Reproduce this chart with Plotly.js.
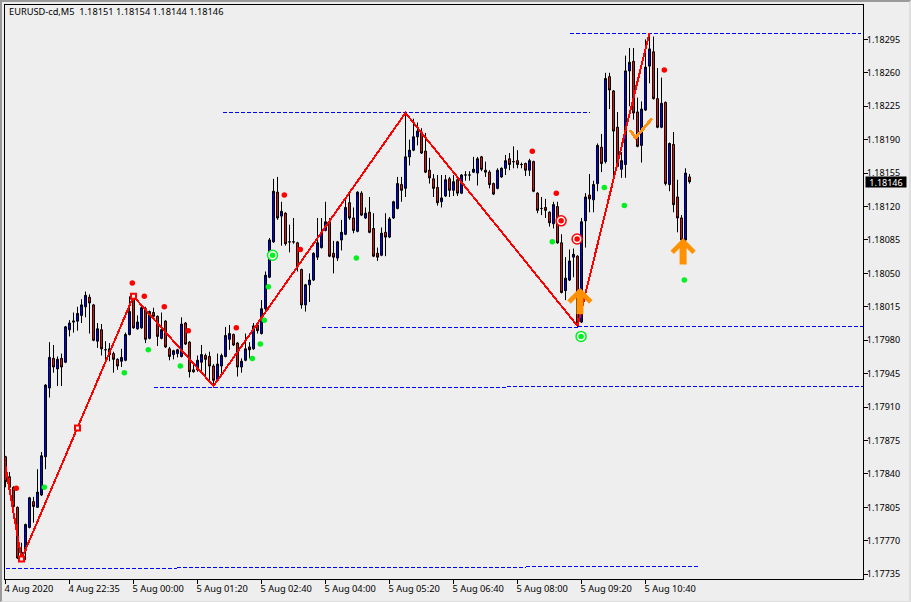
<!DOCTYPE html>
<html><head><meta charset="utf-8">
<script src="https://cdn.plot.ly/plotly-3.0.1.min.js"></script>
<style>
html,body{margin:0;padding:0;background:#eeeeee;overflow:hidden}
#frame{position:absolute;left:0;top:0;width:911px;height:602px}
#chart{position:absolute;left:0;top:0;width:911px;height:602px}
#edge{position:absolute;left:0;top:0;width:907px;height:599px;border-left:2px solid #9a9a9a;border-top:2px solid #9a9a9a;border-right:2px solid #dedede;border-bottom:1px solid #dedede;pointer-events:none}
.scatterlayer .js-line{shape-rendering:crispEdges}
</style></head><body>
<div id="frame"><div id="chart"></div><div id="edge"></div></div>
<script>
const opens=[
1.17858,1.17837,1.17826,1.17805,1.17751,1.17760,1.17784,1.17811,1.17805,1.17818,
1.17858,1.17930,1.17961,1.17950,1.17961,1.17957,1.17991,1.17999,1.18000,1.18006,
1.18015,1.18025,1.18017,1.17979,1.17991,1.17970,1.17965,1.17966,1.17960,1.17958,
1.17959,1.17986,1.18025,1.17992,1.17993,1.18013,1.17982,1.18009,1.18005,1.17982,
1.18000,1.17971,1.17965,1.17966,1.17963,1.17998,1.17978,1.17949,1.17949,1.17957,
1.17964,1.17963,1.17953,1.17939,1.17953,1.17963,1.17981,1.17986,1.17977,1.17952,
1.17959,1.17973,1.17971,1.17996,1.17987,1.18013,1.18046,1.18083,1.18135,1.18110,
1.18113,1.18083,1.18083,1.18082,1.18054,1.18017,1.18038,1.18043,1.18067,1.18077,
1.18095,1.18104,1.18071,1.18066,1.18085,1.18091,1.18124,1.18108,1.18094,1.18134,
1.18108,1.18114,1.18097,1.18071,1.18069,1.18093,1.18088,1.18108,1.18118,1.18143,
1.18139,1.18172,1.18179,1.18193,1.18198,1.18178,1.18158,1.18149,1.18140,1.18125,
1.18131,1.18149,1.18137,1.18148,1.18134,1.18153,1.18153,1.18156,1.18155,1.18172,
1.18158,1.18156,1.18144,1.18139,1.18151,1.18160,1.18170,1.18167,1.18168,1.18164,
1.18165,1.18158,1.18167,1.18134,1.18118,1.18119,1.18114,1.18102,1.18120,1.18082,
1.18032,1.18043,1.18067,1.18068,1.17999,1.18105,1.18132,1.18127,1.18144,1.18182,
1.18167,1.18256,1.18241,1.18203,1.18159,1.18164,1.18262,1.18272,1.18219,1.18184,
1.18221,1.18267,1.18282,1.18233,1.18203,1.18229,1.18143,1.18185,1.18130,1.18108,
1.18085,1.18151];
const highs=[
1.17859,1.17842,1.17827,1.17806,1.17768,1.17788,1.17816,1.17816,1.17845,1.17863,
1.17934,1.17978,1.17975,1.17963,1.17966,1.17995,1.18001,1.18009,1.18015,1.18023,
1.18031,1.18028,1.18018,1.17998,1.17997,1.17979,1.17977,1.17968,1.17961,1.17971,
1.17988,1.18026,1.18027,1.18006,1.18016,1.18015,1.18011,1.18014,1.18006,1.18009,
1.18001,1.17973,1.17970,1.17971,1.18004,1.17999,1.17979,1.17956,1.17964,1.17975,
1.17966,1.17968,1.17955,1.17966,1.17966,1.17994,1.17996,1.17987,1.17978,1.17961,
1.17987,1.17978,1.17998,1.17999,1.18022,1.18052,1.18087,1.18149,1.18151,1.18125,
1.18114,1.18101,1.18108,1.18083,1.18055,1.18039,1.18050,1.18072,1.18108,1.18108,
1.18125,1.18108,1.18084,1.18084,1.18106,1.18129,1.18133,1.18119,1.18136,1.18136,
1.18119,1.18130,1.18113,1.18077,1.18098,1.18113,1.18109,1.18126,1.18151,1.18151,
1.18218,1.18190,1.18212,1.18208,1.18202,1.18197,1.18171,1.18154,1.18153,1.18153,
1.18153,1.18151,1.18153,1.18150,1.18154,1.18157,1.18157,1.18172,1.18172,1.18173,
1.18167,1.18158,1.18145,1.18160,1.18161,1.18174,1.18176,1.18183,1.18179,1.18166,
1.18166,1.18170,1.18168,1.18135,1.18130,1.18128,1.18115,1.18125,1.18125,1.18091,
1.18067,1.18075,1.18076,1.18069,1.18108,1.18134,1.18154,1.18147,1.18186,1.18196,
1.18260,1.18260,1.18242,1.18219,1.18177,1.18278,1.18286,1.18286,1.18234,1.18230,
1.18295,1.18301,1.18298,1.18265,1.18255,1.18230,1.18187,1.18198,1.18148,1.18111,
1.18160,1.18154];
const lows=[
1.17826,1.17825,1.17805,1.17751,1.17750,1.17750,1.17783,1.17789,1.17805,1.17817,
1.17845,1.17920,1.17946,1.17932,1.17932,1.17956,1.17984,1.17988,1.17990,1.17998,
1.18004,1.17987,1.17979,1.17972,1.17964,1.17956,1.17958,1.17946,1.17949,1.17952,
1.17958,1.17985,1.17992,1.17991,1.17992,1.17977,1.17981,1.18004,1.17974,1.17981,
1.17972,1.17959,1.17960,1.17962,1.17962,1.17975,1.17941,1.17946,1.17947,1.17948,
1.17942,1.17938,1.17931,1.17938,1.17942,1.17962,1.17970,1.17974,1.17942,1.17946,
1.17958,1.17961,1.17970,1.17987,1.17986,1.18008,1.18045,1.18082,1.18106,1.18079,
1.18079,1.18072,1.18081,1.18052,1.18013,1.18010,1.18020,1.18042,1.18064,1.18076,
1.18094,1.18067,1.18050,1.18063,1.18074,1.18090,1.18106,1.18092,1.18093,1.18110,
1.18107,1.18092,1.18067,1.18063,1.18068,1.18068,1.18087,1.18107,1.18117,1.18125,
1.18130,1.18163,1.18178,1.18184,1.18175,1.18155,1.18144,1.18130,1.18121,1.18119,
1.18130,1.18130,1.18131,1.18131,1.18133,1.18147,1.18147,1.18155,1.18142,1.18157,
1.18151,1.18139,1.18132,1.18138,1.18150,1.18153,1.18158,1.18160,1.18160,1.18160,
1.18152,1.18152,1.18135,1.18113,1.18111,1.18108,1.18099,1.18097,1.18081,1.18029,
1.18022,1.18042,1.18046,1.17994,1.17998,1.18077,1.18114,1.18114,1.18136,1.18156,
1.18165,1.18222,1.18148,1.18161,1.18150,1.18150,1.18225,1.18211,1.18182,1.18166,
1.18220,1.18249,1.18232,1.18202,1.18202,1.18142,1.18136,1.18114,1.18093,1.18084,
1.18084,1.18144];
const closes=[
1.17832,1.17826,1.17806,1.17752,1.17758,1.17787,1.17815,1.17806,1.17821,1.17859,
1.17933,1.17962,1.17952,1.17960,1.17952,1.17994,1.17998,1.18000,1.18008,1.18017,
1.18027,1.18019,1.17980,1.17992,1.17971,1.17970,1.17971,1.17960,1.17953,1.17962,
1.17986,1.18010,1.17993,1.17999,1.18014,1.17981,1.18010,1.18005,1.17984,1.17991,
1.17973,1.17963,1.17969,1.17970,1.17997,1.17976,1.17947,1.17947,1.17959,1.17965,
1.17960,1.17953,1.17938,1.17955,1.17964,1.17985,1.17987,1.17975,1.17952,1.17958,
1.17971,1.17970,1.17995,1.17990,1.18013,1.18048,1.18085,1.18136,1.18108,1.18115,
1.18081,1.18083,1.18083,1.18057,1.18017,1.18038,1.18043,1.18071,1.18082,1.18093,
1.18104,1.18068,1.18067,1.18083,1.18093,1.18119,1.18108,1.18095,1.18135,1.18111,
1.18113,1.18093,1.18068,1.18067,1.18092,1.18088,1.18107,1.18125,1.18144,1.18137,
1.18172,1.18179,1.18193,1.18199,1.18176,1.18156,1.18150,1.18139,1.18124,1.18129,
1.18148,1.18137,1.18146,1.18134,1.18153,1.18153,1.18153,1.18159,1.18170,1.18159,
1.18156,1.18143,1.18133,1.18158,1.18160,1.18168,1.18164,1.18167,1.18164,1.18164,
1.18158,1.18168,1.18136,1.18116,1.18118,1.18116,1.18103,1.18122,1.18082,1.18030,
1.18045,1.18063,1.18070,1.17998,1.18104,1.18130,1.18128,1.18143,1.18184,1.18165,
1.18254,1.18242,1.18199,1.18162,1.18168,1.18262,1.18271,1.18218,1.18183,1.18222,
1.18266,1.18285,1.18233,1.18203,1.18228,1.18144,1.18186,1.18122,1.18108,1.18085,
1.18155,1.18146];
const barIndex=opens.map((_,i)=>i);

const zigzagBars=[0,4,32,52,100,143,161];
const zigzagPrices=[1.17848,1.17751,1.18026,1.17932,1.18218,1.17995,1.18302];
const zigzagMarkBars=[4,18,32];
const zigzagMarkPrices=[1.17751,1.17888,1.18026];

const levels=[
 {bars:[141,213.75],price:1.18301},
 {bars:[54.25,146],price:1.18218},
 {bars:[79,143],price:1.17993},
 {bars:[143,214.3],price:1.17994},
 {bars:[37,125.25],price:1.17930},
 {bars:[125.25,214.3],price:1.17932},
 {bars:[0,42.75],price:1.17741},
 {bars:[42.75,130],price:1.17742},
 {bars:[130,173.25],price:1.17743}
];

const redDotBars=[2.7,31.7,34.7,39.7,45.7,57.7,69.7,73.7,131.7,137.7,164.7];
const redDotPrices=[1.17825,1.18040,1.18026,1.18015,1.17990,1.17993,1.18132,1.18075,1.18178,1.18134,1.18263];
const greenDotBars=[9.7,29.7,35.7,43.7,61.7,63.7,64.7,65.7,87.7,136.7,149.7,154.7,169.7];
const greenDotPrices=[1.17826,1.17946,1.17970,1.17953,1.17961,1.17976,1.18001,1.18036,1.18066,1.18083,1.18140,1.18121,1.18043];
const redTargetBars=[138.9,142.9];
const redTargetPrices=[1.18105,1.18086];
const greenTargetBars=[66.75,143.9];
const greenTargetPrices=[1.18069,1.17984];
const arrowBars=[143.6,169.4];
const arrowPrices=[1.18035,1.18087];
const checkBars=[156.1,157.5,161.6];
const checkPrices=[1.18200,1.18192,1.18212];

const xTickBars=[0,16,32,48,64,80,96,112,128,144,160];
const xTickLabels=["4 Aug 2020","4 Aug 22:35","5 Aug 00:00","5 Aug 01:20","5 Aug 02:40","5 Aug 04:00","5 Aug 05:20","5 Aug 06:40","5 Aug 08:00","5 Aug 09:20","5 Aug 10:40"];
const yTicks=[1.17735,1.17770,1.17805,1.17840,1.17875,1.17910,1.17945,1.17980,1.18015,1.18050,1.18085,1.18120,1.18155,1.18190,1.18225,1.18260,1.18295];
const lastPrice=1.18146;
const headerText="EURUSD-cd,M5\u00a0\u00a01.18151 1.18154 1.18144 1.18146";

const uiFont="Noto Sans, sans-serif";
const traces=[];
traces.push({type:'candlestick',x:barIndex,open:opens,high:highs,low:lows,close:closes,
  increasing:{line:{color:'#000000',width:1},fillcolor:'#0000ff'},
  decreasing:{line:{color:'#000000',width:1},fillcolor:'#ff0000'},
  whiskerwidth:0,hoverinfo:'skip',showlegend:false});
levels.forEach(l=>traces.push({type:'scatter',mode:'lines',x:l.bars,y:[l.price,l.price],
  line:{color:'#0000ff',width:1,dash:'4px,2px'},hoverinfo:'skip',showlegend:false}));
traces.push({type:'scatter',mode:'lines',x:zigzagBars,y:zigzagPrices,line:{color:'#ff0000',width:2},hoverinfo:'skip',showlegend:false});
traces.push({type:'scatter',mode:'markers',x:zigzagMarkBars,y:zigzagMarkPrices,
  marker:{symbol:'square',size:5,color:'#eeeeee',line:{color:'#ff0000',width:2}},hoverinfo:'skip',showlegend:false});
const dots=(x,y,c)=>({type:'scatter',mode:'markers',x,y,marker:{symbol:'circle',size:5.5,color:c},hoverinfo:'skip',showlegend:false});
const rings=(x,y,c)=>({type:'scatter',mode:'markers',x,y,marker:{symbol:'circle',size:10,color:'#ffffff',line:{color:c,width:1.5}},hoverinfo:'skip',showlegend:false});
traces.push(dots(redDotBars,redDotPrices,'#ff0000'));
traces.push(dots(greenDotBars,greenDotPrices,'#00f020'));
traces.push(rings(redTargetBars,redTargetPrices,'#ff0000'));
traces.push(dots(redTargetBars,redTargetPrices,'#ff0000'));
traces.push(rings(greenTargetBars,greenTargetPrices,'#00f020'));
traces.push(dots(greenTargetBars,greenTargetPrices,'#00f020'));
traces.push({type:'scatter',mode:'lines',x:checkBars,y:checkPrices,line:{color:'#ff9310',width:3},hoverinfo:'skip',showlegend:false});

const annotations=arrowBars.map((b,i)=>({x:b,y:arrowPrices[i],xref:'x',yref:'y',text:'',showarrow:true,
  arrowhead:4,arrowsize:0.6,arrowwidth:7,arrowcolor:'#ff9100',ax:0,ay:28,axref:'pixel',ayref:'pixel'}));
annotations.push({xref:'paper',yref:'y',x:(865-5)/858,y:lastPrice,xanchor:'left',yanchor:'middle',showarrow:false,
  text:lastPrice.toFixed(5),bgcolor:'#000000',font:{family:uiFont,size:9,color:'#ffffff'},width:40,height:10,align:'center',borderpad:0});

const layout={
  width:911,height:602,margin:{l:5,r:48,t:5,b:23},autosize:false,showlegend:false,
  paper_bgcolor:'#eeeeee',plot_bgcolor:'#eeeeee',boxgap:0.5,boxgroupgap:0,
  title:{text:headerText,x:9/911,xanchor:'left',xref:'container',y:1-12/602,yanchor:'middle',yref:'container',pad:{l:0,r:0,t:0,b:0},font:{family:uiFont,size:9.25,color:'#000000'}},
  xaxis:{range:[-0.125,214.375],tickmode:'array',tickvals:xTickBars,ticktext:xTickLabels,ticks:'outside',ticklen:4,tickwidth:1,tickcolor:'#000',
    ticklabelposition:'outside right',ticklabelshift:-2,ticklabelstandoff:1,showgrid:false,zeroline:false,showline:true,mirror:true,linecolor:'#000',linewidth:1,
    rangeslider:{visible:false},tickfont:{family:uiFont,size:9.3,color:'#000'},tickangle:0,fixedrange:true},
  yaxis:{side:'right',range:[1.17730,1.18331],tickmode:'array',tickvals:yTicks,ticktext:yTicks.map(v=>v.toFixed(5)),ticks:'outside',ticklen:4,tickwidth:1,tickcolor:'#000',
    ticklabelstandoff:-3,showgrid:false,zeroline:false,showline:true,mirror:true,linecolor:'#000',linewidth:1,tickfont:{family:uiFont,size:9,color:'#000'},fixedrange:true},
  annotations
};
Plotly.newPlot('chart',traces,layout,{displayModeBar:false,staticPlot:true});
</script>
</body></html>
